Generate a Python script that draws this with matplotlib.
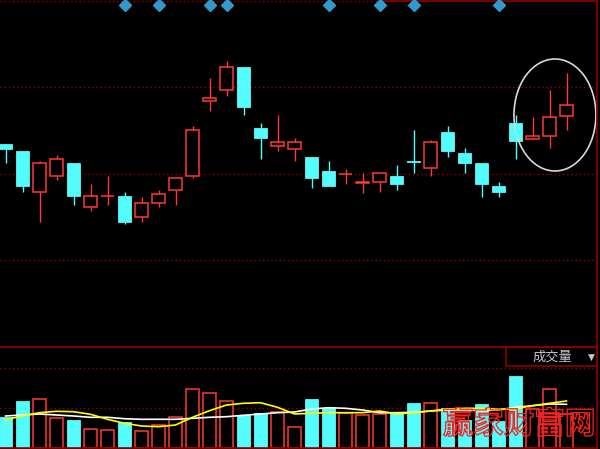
#!/usr/bin/env python3
"""K-line chart with volume panel, dark terminal style -> out.png"""
import numpy as np
import matplotlib; matplotlib.use("Agg"); import matplotlib.pyplot as plt
from matplotlib.patches import Ellipse, Rectangle
from matplotlib.transforms import blended_transform_factory
import matplotlib.patheffects as pe

# daily OHLC (34 sessions)
opens = [12.03, 11.96, 11.55, 11.71, 11.84, 11.40, 11.51, 11.51, 11.30, 11.44,
         11.57, 11.71, 12.46, 12.57, 12.80, 12.19, 12.01, 11.98, 11.90, 11.76,
         11.73, 11.64, 11.65, 11.71, 11.86, 11.79, 12.15, 11.94, 11.84, 11.61,
         12.24, 12.08, 12.11, 12.31]
closes = [11.98, 11.61, 11.84, 11.88, 11.51, 11.51, 11.51, 11.25, 11.44, 11.53,
          11.69, 12.17, 12.49, 12.80, 12.40, 12.09, 12.05, 12.05, 11.69, 11.61,
          11.73, 11.65, 11.74, 11.63, 11.85, 12.05, 11.96, 11.84, 11.63, 11.55,
          12.06, 12.11, 12.30, 12.42]
highs = [12.03, 11.96, 11.86, 11.92, 11.84, 11.63, 11.71, 11.55, 11.50, 11.57,
         11.69, 12.21, 12.69, 12.86, 12.80, 12.24, 12.32, 12.09, 11.90, 11.86,
         11.78, 11.74, 11.74, 11.82, 12.17, 12.07, 12.21, 11.99, 11.84, 11.65,
         12.32, 12.30, 12.57, 12.74]
lows = [11.84, 11.55, 11.25, 11.67, 11.42, 11.36, 11.42, 11.23, 11.25, 11.40,
        11.42, 11.69, 12.36, 12.51, 12.32, 11.88, 11.96, 11.86, 11.59, 11.61,
        11.63, 11.54, 11.55, 11.57, 11.74, 11.71, 11.90, 11.74, 11.50, 11.50,
        11.88, 12.08, 11.99, 12.17]
# rising candles (red); doji 7 and 21 are red, doji 25 is cyan
rising = [False, False, True, True, False, True, True, False, True, True,
          True, True, True, True, False, False, True, True, False, False,
          True, True, True, False, False, True, False, False, False, False,
          False, True, True, True]
volume = [3070, 4700, 4870, 2970, 2800, 1870, 1770, 2600, 1670, 2270,
          3070, 5870, 5470, 4670, 3270, 3470, 3630, 2070, 4900, 4030,
          3500, 3300, 3430, 3500, 4500, 4500, 4030, 2800, 4400, 2700,
          7200, 3930, 5900, 3400]
vol_ma5 = [2800, 3230, 3530, 3670, 3630, 3370, 2870, 2470, 2200, 2130,
           2300, 3070, 3730, 4300, 4470, 4530, 4070, 3400, 3470, 3530,
           3530, 3530, 3700, 3400, 3530, 3700, 3900, 3970, 3970, 3870,
           3900, 4230, 4470, 4700]
vol_ma10 = [3200, 3300, 3400, 3300, 3200, 3070, 3070, 2930, 2870, 2870,
            2870, 2970, 3070, 3130, 3270, 3400, 3530, 3600, 3900, 4030,
            3970, 3800, 3530, 3530, 3570, 3700, 3800, 3800, 3730, 3800,
            4070, 4230, 4400, 4370]
signal_days = [7, 9, 12, 13, 19, 22, 24, 29]
watermark = "赢家财富网"
vol_label = "成交量"

RED = "#FF3838"; CYAN = "#54FCFC"; GRID = "#9A0000"; FRAME = "#8C0000"
W = 600.0; H = 449.0


def main():
    plt.rcParams["font.family"] = ["Noto Sans CJK SC", "DejaVu Sans"]
    fig = plt.figure(figsize=(6, 4.49), dpi=100, facecolor="black")
    n = len(opens)
    x = np.arange(n)
    xlim = (-5.5 / 17, (597 - 5.5) / 17)
    ax = fig.add_axes([0, (H - 347) / H, 597 / W, 347 / H], facecolor="black")
    av = fig.add_axes([0, 1 / H, 597 / W, 101 / H], facecolor="black")

    # --- price panel
    o = np.array(opens); c = np.array(closes); hi = np.array(highs); lo = np.array(lows)
    up = np.array(rising)
    top = np.maximum(o, c); bot = np.minimum(o, c)
    ax.vlines(x[up], top[up], hi[up], color=RED, lw=1)
    ax.vlines(x[up], lo[up], bot[up], color=RED, lw=1)
    ax.vlines(x[~up], lo[~up], hi[~up], color=CYAN, lw=1)
    ax.bar(x[up], (top - bot)[up], bottom=bot[up], width=0.72,
           facecolor="black", edgecolor=RED, lw=1.1)
    ax.bar(x[~up], np.maximum(top - bot, 0.012)[~up], bottom=bot[~up], width=0.75,
           facecolor=CYAN, edgecolor=CYAN, lw=0.6)
    ax.set_xlim(*xlim); ax.set_ylim(10.0, 13.47)
    ylo, yhi = ax.get_ylim()
    ax.set_yticks(np.linspace(ylo, yhi, 5)[1:4])
    ax.grid(True, axis="y", color=GRID, ls=(0, (1, 2)), lw=1)
    ax.plot([0, 0.6415], [0.996, 0.996], transform=ax.transAxes, color=GRID,
            ls=(0, (1, 2)), lw=1)
    ax.plot([0.6415, 1], [0.997, 0.997], transform=ax.transAxes, color=FRAME, lw=1.2)
    tr = blended_transform_factory(ax.transData, ax.transAxes)
    ax.plot(signal_days, [0.9847] * len(signal_days), "D", color="#3399CC",
            ms=6.2, transform=tr, clip_on=False)
    ax.add_patch(Ellipse((32.32, 12.32), 4.82, 1.12, fill=False,
                         edgecolor="#D8D8D8", lw=1.2))

    # --- volume panel
    v = np.array(volume)
    av.bar(x[up], v[up], width=0.72, facecolor="black", edgecolor=RED, lw=1.1)
    av.bar(x[~up], v[~up], width=0.75, facecolor=CYAN, edgecolor=CYAN, lw=0.6)
    av.plot(x, vol_ma10, color="white", lw=1.2)
    av.plot(x, vol_ma5, color="#FFFF00", lw=1.2)
    av.set_xlim(*xlim); av.set_ylim(0, 10100)
    av.set_yticks([4000, 8000])
    av.grid(True, axis="y", color=GRID, ls=(0, (1, 2)), lw=1)
    av.text(30.2, 2350, watermark, color="none", fontsize=22, ha="center",
            va="center", fontweight="bold",
            path_effects=[pe.withStroke(linewidth=0.9, foreground="#FF2020")])
    bx = 506 / 597; by = (448 - 366) / 101
    av.add_patch(Rectangle((bx, by), 1 - bx, 1 - by, transform=av.transAxes,
                           fill=False, edgecolor=FRAME, lw=1.2, clip_on=False))
    av.text(0.9246, 0.90, vol_label, transform=av.transAxes, color="#C8C8C8",
            fontsize=9.5, ha="center", va="center")
    av.text(0.99, 0.90, "▼", transform=av.transAxes, color="#C8C8C8",
            fontsize=6.5, ha="center", va="center", family=["DejaVu Sans"])

    for a in (ax, av):
        a.tick_params(left=False, bottom=False, labelleft=False, labelbottom=False)
        for s in ("left", "top"):
            a.spines[s].set_visible(False)
        for s in ("right", "bottom"):
            a.spines[s].set_color(FRAME); a.spines[s].set_linewidth(1.2)
        a.set_axisbelow(True)
    av.spines["top"].set_visible(True)
    av.spines["top"].set_color(FRAME); av.spines["top"].set_linewidth(1.2)

    fig.savefig("out.png", dpi=100, facecolor="black")


if __name__ == "__main__":
    main()
